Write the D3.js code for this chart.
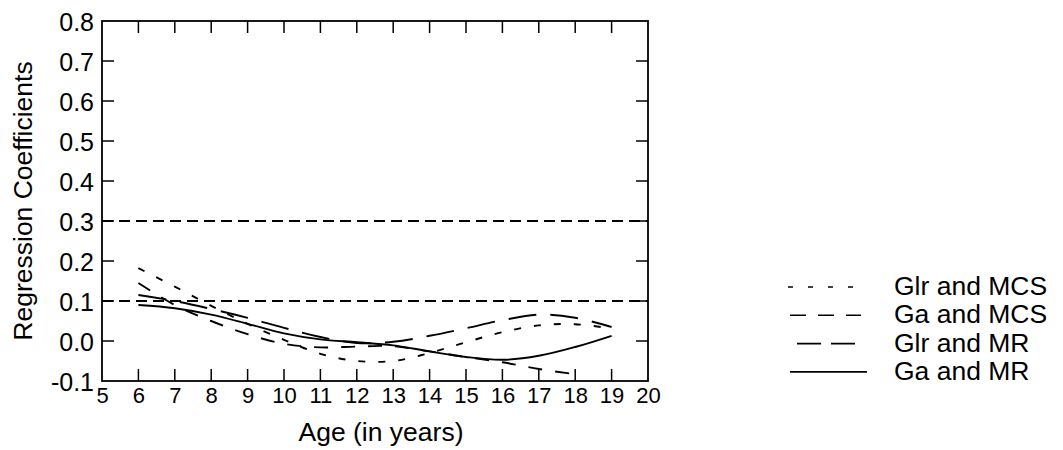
<!DOCTYPE html>
<html><head><meta charset="utf-8">
<script src="https://cdn.jsdelivr.net/npm/d3@7"></script>
<style>body{margin:0;background:#fff}svg{display:block}text{font-family:"Liberation Sans",Arial,sans-serif;fill:#000}</style>
</head><body><svg id="c" width="1063" height="450"></svg>
<script>
const ages = [6,7,8,9,10,11,12,13,14,15,16,17,18,19];
const glrMCS = [0.182,0.136,0.088,0.043,0.003,-0.032,-0.050,-0.050,-0.030,-0.003,0.022,0.039,0.042,0.031];
const gaMCS  = [0.145,0.090,0.050,0.017,-0.007,-0.016,-0.014,-0.013,-0.026,-0.040,-0.053,-0.070,-0.083];
const glrMR  = [0.115,0.100,0.080,0.058,0.033,0.010,-0.005,-0.002,0.013,0.032,0.052,0.066,0.058,0.035];
const gaMR   = [0.090,0.082,0.066,0.043,0.019,0.004,-0.003,-0.011,-0.026,-0.040,-0.047,-0.037,-0.015,0.013];
const seriesNames = ["Glr and MCS","Ga and MCS","Glr and MR","Ga and MR"];
const seriesValues = [glrMCS, gaMCS, glrMR, gaMR];
const refLines = [0.3, 0.1];
const xTicks = [5,6,7,8,9,10,11,12,13,14,15,16,17,18,19,20];
const yTicks = [-0.1,0,0.1,0.2,0.3,0.4,0.5,0.6,0.7,0.8];

const dashes = ["7,13","14,13","28,14",null];
const svg = d3.select("#c");
const L=102,R=648,T=21,B=381;
const x = d3.scaleLinear().domain([5,20]).range([L,R]);
const y = d3.scaleLinear().domain([-0.1,0.8]).range([B,T]);

svg.append("rect").attr("x",L).attr("y",T).attr("width",R-L).attr("height",B-T)
  .attr("fill","none").attr("stroke","#000").attr("stroke-width",1.8);

const fmt = d=> (d<0?"-":"") + Math.abs(d).toFixed(1);
const gx = svg.append("g").attr("transform",`translate(0,${B})`)
  .call(d3.axisBottom(x).tickValues(xTicks).tickSize(0).tickPadding(6).tickFormat(d3.format("d")));
gx.select(".domain").remove();
gx.selectAll("text").attr("font-size",22).attr("dy","0.72em");
const gy = svg.append("g").attr("transform",`translate(${L},0)`)
  .call(d3.axisLeft(y).tickValues(yTicks).tickSize(0).tickPadding(8).tickFormat(fmt));
gy.select(".domain").remove();
gy.selectAll("text").attr("font-size",25).attr("dy","0.36em");

const inner = xTicks.filter(d=>d>5&&d<20);
svg.append("g").selectAll("line").data(inner).join("line")
  .attr("x1",d=>x(d)).attr("x2",d=>x(d)).attr("y1",B).attr("y2",B-12).attr("stroke","#000").attr("stroke-width",1.5);
svg.append("g").selectAll("line").data(inner).join("line")
  .attr("x1",d=>x(d)).attr("x2",d=>x(d)).attr("y1",T).attr("y2",T+12).attr("stroke","#000").attr("stroke-width",1.5);
const innerY = yTicks.filter(d=>d>-0.1&&d<0.8);
svg.append("g").selectAll("line").data(innerY).join("line")
  .attr("x1",L).attr("x2",L+12).attr("y1",d=>y(d)).attr("y2",d=>y(d)).attr("stroke","#000").attr("stroke-width",1.5);
svg.append("g").selectAll("line").data(innerY).join("line")
  .attr("x1",R).attr("x2",R-12).attr("y1",d=>y(d)).attr("y2",d=>y(d)).attr("stroke","#000").attr("stroke-width",1.5);

svg.append("g").selectAll("line").data(refLines).join("line")
  .attr("x1",L).attr("x2",R).attr("y1",d=>y(d)).attr("y2",d=>y(d))
  .attr("stroke","#000").attr("stroke-width",2).attr("stroke-dasharray","11,6");

const line = d3.line().x(d=>x(d[0])).y(d=>y(d[1])).curve(d3.curveCatmullRom.alpha(0.5));
seriesValues.forEach((vals,i)=>{
  const pts = vals.map((v,j)=>[ages[j],v]);
  svg.append("path").attr("d",line(pts)).attr("fill","none").attr("stroke","#000")
    .attr("stroke-width",1.9).attr("stroke-dasharray",dashes[i]);
});

svg.append("text").attr("x",381).attr("y",441).attr("text-anchor","middle").attr("font-size",26.5).text("Age (in years)");
svg.append("text").attr("transform",`translate(32,201) rotate(-90)`).attr("text-anchor","middle").attr("font-size",26.5).text("Regression Coefficients");

const legDash = ["5,15","16,12","24,10",null];
const legX = [[788,855],[790,861],[797,855],[790,867]];
const lg = svg.append("g");
seriesNames.forEach((n,i)=>{
  const base = 295 + i*28.3;
  lg.append("line").attr("x1",legX[i][0]).attr("x2",legX[i][1]).attr("y1",base-8).attr("y2",base-8)
    .attr("stroke","#000").attr("stroke-width",1.6).attr("stroke-dasharray",legDash[i]);
  lg.append("text").attr("x",894).attr("y",base).attr("font-size",26.5).text(n);
});
</script></body></html>
